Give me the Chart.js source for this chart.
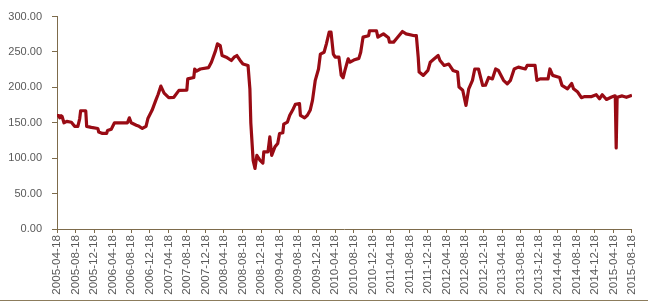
<!DOCTYPE html>
<html>
<head>
<meta charset="utf-8">
<script src="https://cdn.jsdelivr.net/npm/chart.js@4"></script>
<style>
html,body{margin:0;padding:0;background:#fff;}
#wrap{width:648px;height:304px;position:relative;}
</style>
</head>
<body>
<div id="wrap"><canvas id="c" width="648" height="304"></canvas></div>
<script>
// x: months since 2005-04-18
const months = [0,0.4,0.6,0.9,1.1,1.5,2.1,3.1,3.8,4.5,4.9,5.1,6.2,6.4,7.4,8.8,9.0,9.8,10.7,10.9,11.7,12.4,15.2,15.6,16.0,17.1,17.7,18.4,19.2,19.6,20.5,21.3,21.8,22.4,23.1,24.1,25.2,26.3,28.0,28.2,29.5,29.7,30.1,30.9,32.7,33.3,34.2,34.6,35.2,35.6,36.5,37.6,38.2,38.8,39.5,40.1,41.2,41.6,41.8,42.3,42.7,43.1,43.8,44.4,44.6,45.5,45.9,46.3,47.0,47.6,48.0,48.7,48.9,49.7,50.2,50.8,51.4,52.3,52.5,53.4,54.0,54.6,55.1,55.7,56.4,56.8,57.6,58.1,58.7,59.1,59.6,60.0,60.8,61.3,61.7,62.1,62.8,63.2,64.0,65.1,65.5,66.0,67.2,67.4,68.9,69.2,70.4,71.5,71.7,72.6,73.2,74.5,75.3,77.1,77.5,77.9,78.1,79.0,80.0,80.5,81.3,82.2,82.6,83.5,84.5,85.4,86.4,86.7,87.5,88.2,88.8,89.6,90.1,90.9,91.8,92.4,93.1,93.9,94.6,95.2,96.3,97.1,97.8,98.6,99.5,101.0,101.4,103.1,103.5,104.2,105.9,106.3,106.9,108.4,108.9,110.1,111.0,111.4,112.3,113.1,113.8,115.3,116.3,117.0,117.6,118.5,119.5,120.2,120.4,120.6,120.8,121.9,122.8,124];
const values = [160,160,157,160,159,150,152,150.7,145,145,156,167,167,145,143.6,142,137,135,135,139,141,150,150,157,150,146.5,145,142,145,156,167.6,181.7,190,201.8,192,185.5,186,195.8,196,212,214,226,223,226,228,235.6,252,261.5,259,245,242.7,238,242.7,245,238,233,231,198,150,97,85.5,104,97,93,109,109,130,104,116,120.7,134.8,136,148,151,160.6,167.6,176,177,160.6,157,160.6,167.6,181.7,210,226,247,249.6,261.5,278,278,247,242.7,242.7,217,213.6,224,240.4,235.6,238.6,241,249.7,271,273,280,280,271,275.6,270,264,264,268.6,279,275.6,273,273,242.7,221.6,217,224,235.6,240,245,238,231,233,224,221.6,200.5,196,174.6,198,210,226,226,202.8,203,214,212,226,224,210,205,210,226,228.6,226,231,231,210,212,212,226,217,214,203,198,205.6,198,193.5,185.5,187,187,189.7,184,189.7,183,186,188,188,114.5,186,188,186,189];
const tickLabels = ["2005-04-18","2005-08-18","2005-12-18","2006-04-18","2006-08-18","2006-12-18","2007-04-18","2007-08-18","2007-12-18","2008-04-18","2008-08-18","2008-12-18","2009-04-18","2009-08-18","2009-12-18","2010-04-18","2010-08-18","2010-12-18","2011-04-18","2011-08-18","2011-12-18","2012-04-18","2012-08-18","2012-12-18","2013-04-18","2013-08-18","2013-12-18","2014-04-18","2014-08-18","2014-12-18","2015-04-18","2015-08-18"];
const yTicks = [0,50,100,150,200,250,300];

const axisColor = '#7d6b4b';
const textColor = '#595959';

const bottomLine = {
  id:'bottomLine',
  afterDraw(chart){
    const ctx = chart.ctx;
    ctx.save();
    ctx.strokeStyle = '#8c7c5c';
    ctx.lineWidth = 1;
    ctx.beginPath();
    ctx.moveTo(0,300.5);
    ctx.lineTo(648,300.5);
    ctx.stroke();
    ctx.restore();
  }
};

new Chart(document.getElementById('c'), {
  type:'line',
  data:{
    datasets:[{
      data: months.map((m,i)=>({x:m,y:values[i]})),
      borderColor:'#990b14',
      borderWidth:3.2,
      borderJoinStyle:'round',
      pointRadius:0,
      tension:0,
      fill:false
    }]
  },
  options:{
    responsive:false,
    animation:false,
    plugins:{legend:{display:false},tooltip:{enabled:false}},
    layout:{padding:{top:16,right:10,left:0,bottom:0}},
    scales:{
      x:{
        type:'linear',
        min:0,max:124,
        afterBuildTicks(scale){ scale.ticks = tickLabels.map((_,i)=>({value:i*4})); },
        afterFit(scale){ scale.height = 75; },
        ticks:{
          autoSkip:false,
          maxRotation:90,minRotation:90,
          color:textColor,
          font:{family:'Liberation Sans',size:11.7},
          padding:2,
          callback:(v)=>tickLabels[Math.round(v/4)]
        },
        grid:{drawOnChartArea:false,drawTicks:true,tickLength:4,color:axisColor},
        border:{display:true,color:axisColor,width:1}
      },
      y:{
        min:0,max:300,
        afterBuildTicks(scale){ scale.ticks = yTicks.map(v=>({value:v})); },
        afterFit(scale){ scale.width = 57; },
        ticks:{
          color:textColor,
          font:{family:'Liberation Sans',size:11},
          padding:10,
          callback:(v)=>v.toFixed(2)
        },
        grid:{drawOnChartArea:false,drawTicks:true,tickLength:5,color:axisColor},
        border:{display:true,color:axisColor,width:1}
      }
    }
  },
  plugins:[bottomLine]
});
</script>
</body>
</html>
